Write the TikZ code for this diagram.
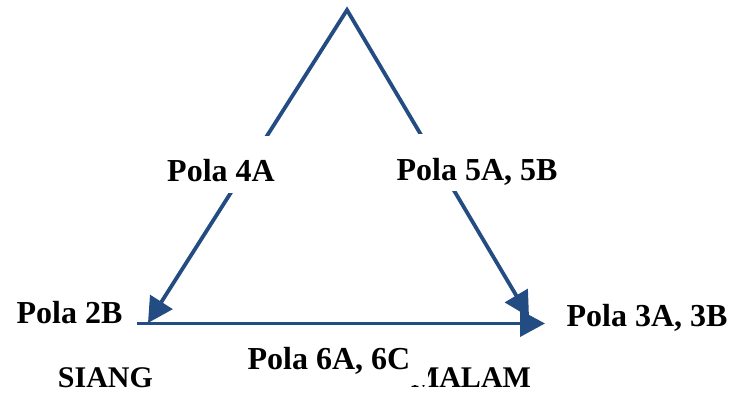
\documentclass[tikz,border=0pt]{standalone}
\usepackage{fontspec}
\setmainfont{Liberation Serif}
\usetikzlibrary{arrows.meta}
\definecolor{birutua}{RGB}{35,76,130}
\begin{document}
\begin{tikzpicture}[x=1pt, y=-1pt,
    garis/.style={draw=birutua, line width=3.8pt},
    teks/.style={font=\fontsize{32}{36}\selectfont\bfseries, anchor=base, inner sep=0pt},
    waktu/.style={teks, font=\fontsize{30}{34}\selectfont\bfseries},
    tutup/.style={teks, fill=white, inner xsep=18pt}]
  \useasboundingbox (0,0) rectangle (731,394);
  \coordinate (puncak) at (347,10);
  \coordinate (kiri) at (137,323.5);
  \coordinate (kanan) at (545,323.5);
  \coordinate (ujungkiri) at (148,323);
  \coordinate (ujungkanan) at (529,317);
  \node[waktu] (siang) at (105.5,387) {SIANG};
  \node[waktu] (malam) at (471,387.5) {MALAM};
  \node[tutup, text height=30pt, text depth=16pt] (p6) at (329,369) {Pola 6A, 6C};
  \node[teks] (p2) at (69.5,323) {Pola 2B};
  \node[teks] (p3) at (647,326.5) {Pola 3A, 3B};
  \draw[garis, {Triangle[length=25pt, width=26pt]}-{Triangle[length=25pt, width=26pt]}] (ujungkiri) -- (puncak) -- (ujungkanan);
  \draw[garis, -{Triangle[length=25pt, width=26pt]}] (kiri) -- (kanan);
  \node[tutup, text height=46pt, text depth=11pt] (p4) at (221,181.5) {Pola 4A};
  \node[tutup, text height=46pt, text depth=11pt] (p5) at (477,180) {Pola 5A, 5B};
\end{tikzpicture}
\end{document}
